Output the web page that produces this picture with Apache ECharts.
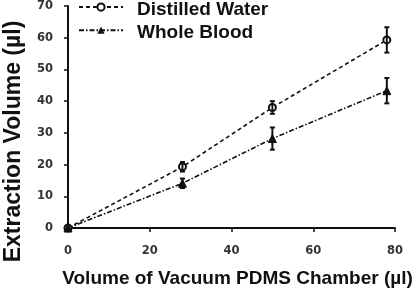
<!DOCTYPE html>
<html><head><meta charset="utf-8">
<script src="https://cdn.jsdelivr.net/npm/echarts@6/dist/echarts.min.js"></script>
<style>html,body{margin:0;padding:0;background:#fff}#c{width:415px;height:292px}</style>
</head><body><div id="c"></div>
<script>
const xValues = [0, 28, 50, 78];
const waterValues = [0, 19.3, 38, 59.3];
const waterErr = [0, 1.5, 2, 4];
const bloodValues = [0, 14.1, 28.2, 43.3];
const bloodErr = [0, 1.5, 3.5, 4];
const xTicks = [0, 20, 40, 60, 80];
const yTicks = [0, 10, 20, 30, 40, 50, 60, 70];
const seriesNames = ['Distilled Water', 'Whole Blood'];
const yTitle = 'Extraction Volume (µl)';
const xTitle = 'Volume of Vacuum PDMS Chamber (µl)';

const FONT = '"Liberation Sans", Arial, sans-serif';
const TICKFONT = '"DejaVu Sans", Verdana, sans-serif';
const INK = '#111';

function errData(vals, errs) {
  return xValues.map((x, i) => [x, vals[i] - errs[i], vals[i] + errs[i]]);
}
function errRender(params, api) {
  const x = api.value(0);
  const lo = api.coord([x, api.value(1)]);
  const hi = api.coord([x, api.value(2)]);
  if (Math.abs(lo[1] - hi[1]) < 0.5) return null;
  const c = 2.5;
  const st = { stroke: INK, lineWidth: 2 };
  return { type: 'group', children: [
    { type: 'line', shape: { x1: lo[0], y1: lo[1], x2: hi[0], y2: hi[1] }, style: st },
    { type: 'line', shape: { x1: lo[0] - c, y1: lo[1], x2: lo[0] + c, y2: lo[1] }, style: st },
    { type: 'line', shape: { x1: hi[0] - c, y1: hi[1], x2: hi[0] + c, y2: hi[1] }, style: st }
  ]};
}

const legendLabels = seriesNames.map((name, i) => ({
  type: 'text', x: 137, y: 9.5 + i * 23,
  style: { text: name, font: 'bold 19px ' + FONT, fill: INK, align: 'left', verticalAlign: 'middle' }
}));

const chart = echarts.init(document.getElementById('c'), null, { renderer: 'canvas' });
chart.setOption({
  animation: false,
  backgroundColor: '#fff',
  grid: { left: 68, right: 20, top: 6, bottom: 64, containLabel: false },
  legend: {
    orient: 'vertical', left: 73, top: -2.5, itemWidth: 44, itemHeight: 9, itemGap: 14,
    data: seriesNames,
    formatter: () => '',
    textStyle: { fontSize: 1 }
  },
  xAxis: {
    type: 'value', min: 0, max: 80, interval: 20,
    axisLine: { lineStyle: { color: INK, width: 2 } },
    axisTick: { show: true, length: 4, lineStyle: { color: INK, width: 1.5 } },
    splitLine: { show: false },
    axisLabel: { fontFamily: TICKFONT, fontWeight: 'bold', fontSize: 11.5, color: '#333', margin: 17,
      formatter: v => xTicks.includes(v) ? String(v) : '' }
  },
  yAxis: {
    type: 'value', min: 0, max: 70, interval: 10,
    axisLine: { show: true, lineStyle: { color: INK, width: 2 } },
    axisTick: { show: true, length: 4, lineStyle: { color: INK, width: 1.5 } },
    splitLine: { show: false },
    axisLabel: { fontFamily: TICKFONT, fontWeight: 'bold', fontSize: 11.5, color: '#333', margin: 15,
      formatter: v => yTicks.includes(v) ? String(v) : '' }
  },
  graphic: [
    { type: 'text', x: 237.5, y: 269.5, style: { text: xTitle, font: 'bold 19px ' + FONT, fill: INK, align: 'center', verticalAlign: 'top' } },
    { type: 'text', x: 2, y: 141.5, rotation: Math.PI / 2, style: { text: yTitle, font: 'bold 23px ' + FONT, fill: INK, align: 'center', verticalAlign: 'top' } }
  ].concat(legendLabels),
  series: [
    { name: seriesNames[0], type: 'line', data: xValues.map((x, i) => [x, waterValues[i]]),
      symbol: 'emptyCircle', symbolSize: 7, showAllSymbol: true,
      itemStyle: { color: INK, borderColor: INK, borderWidth: 1.5 },
      lineStyle: { color: INK, width: 1.6, type: [4, 3] }, z: 3 },
    { name: seriesNames[1], type: 'line', data: xValues.map((x, i) => [x, bloodValues[i]]),
      symbol: 'triangle', symbolSize: 8, showAllSymbol: true,
      itemStyle: { color: INK, borderColor: INK },
      lineStyle: { color: INK, width: 1.6, type: [5, 2, 1.5, 2] }, z: 3 },
    { type: 'custom', renderItem: errRender, data: errData(waterValues, waterErr), z: 4, silent: true },
    { type: 'custom', renderItem: errRender, data: errData(bloodValues, bloodErr), z: 4, silent: true }
  ]
});
</script></body></html>
